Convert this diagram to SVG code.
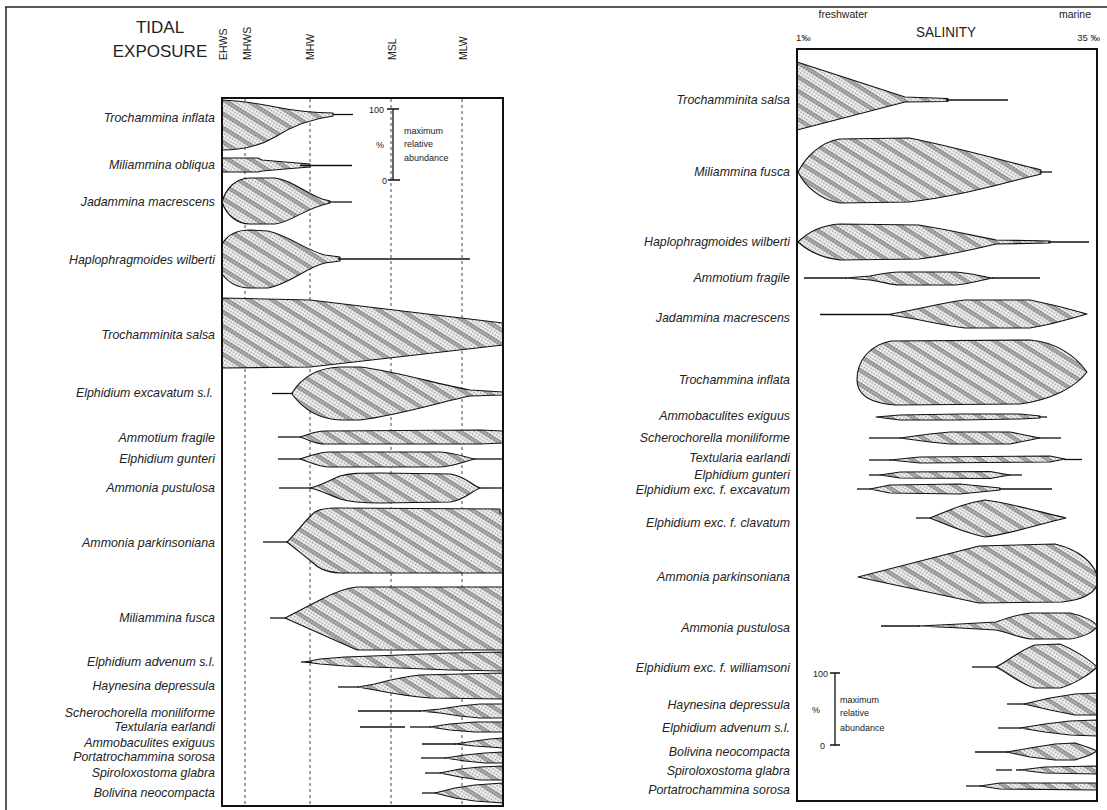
<svg xmlns="http://www.w3.org/2000/svg" width="1107" height="810" viewBox="0 0 1107 810">
<style>
.lbl{font-family:"Liberation Sans",Arial,sans-serif;font-style:italic;font-size:12.4px;fill:#222;text-anchor:end}
.hdr{font-family:"Liberation Sans",Arial,sans-serif;fill:#222}
.sh{fill:url(#stip);stroke:#111;stroke-width:1.1;stroke-linejoin:round}
.tl{stroke:#111;stroke-width:1.3;fill:none}
.tide{stroke:#444;stroke-width:1;stroke-dasharray:3 3;fill:none}
.box{fill:none;stroke:#111;stroke-width:2}
.sc{font-family:"Liberation Sans",Arial,sans-serif;font-size:9px;fill:#222}
.frame{stroke:#222;stroke-width:1.5;fill:none}
</style>
<defs>
<pattern id="dots" width="3" height="3" patternUnits="userSpaceOnUse"><rect width="3" height="3" fill="#f4f4f4"/><rect width="1.5" height="1.5" fill="#959595"/></pattern>
<pattern id="stip" width="12" height="12" patternUnits="userSpaceOnUse" patternTransform="rotate(32)"><rect width="12" height="12" fill="url(#dots)"/><rect width="12" height="4.5" fill="#444" fill-opacity="0.4"/></pattern>
</defs>
<rect width="1107" height="810" fill="#fff"/>
<g id="frame"><path class="frame" d="M5,7 L1107,7 M6,7 L6,810"/></g>

<!-- LEFT PANEL -->
<g id="tidal-header">
<text class="hdr" x="160" y="33" font-size="17" text-anchor="middle">TIDAL</text>
<text class="hdr" x="160" y="57" font-size="17" text-anchor="middle">EXPOSURE</text>
<text class="hdr" font-size="10.5" transform="translate(227,60) rotate(-90)">EHWS</text>
<text class="hdr" font-size="10.5" transform="translate(251,60) rotate(-90)">MHWS</text>
<text class="hdr" font-size="10.5" transform="translate(314,60) rotate(-90)">MHW</text>
<text class="hdr" font-size="10.5" transform="translate(396,60) rotate(-90)">MSL</text>
<text class="hdr" font-size="10.5" transform="translate(467,60) rotate(-90)">MLW</text>
</g>
<g id="tide-lines">
<line class="tide" x1="245" y1="99" x2="245" y2="806"/>
<line class="tide" x1="310" y1="99" x2="310" y2="806"/>
<line class="tide" x1="391" y1="99" x2="391" y2="806"/>
<line class="tide" x1="462" y1="99" x2="462" y2="806"/>
</g>
<g id="left-shapes">
<g id="L-trochammina-inflata"><path class="sh" d="M222,100 C240,101 255,103 270,106 C295,111 315,113 333,113 L333,116 C310,119 292,126 275,137 C258,147 240,150 222,150 Z"/><line class="tl" x1="333" y1="114.5" x2="353" y2="114.5"/></g>
<g id="L-miliammina-obliqua"><path class="sh" d="M222,158 L258,158 L262,160 L285,162 L310,164 L310,167 L285,169 L262,171 L258,172 L222,172 Z"/><line class="tl" x1="300" y1="165.5" x2="352" y2="165.5"/></g>
<g id="L-jadammina"><path class="sh" d="M222,202 C226,188 236,178 250,178 L275,178 C292,180 305,193 322,199 L330,201 L330,203 C305,208 292,222 275,224 L250,224 C236,224 226,214 222,202 Z"/><line class="tl" x1="328" y1="202" x2="352" y2="202"/></g>
<g id="L-haplophragmoides"><path class="sh" d="M222,244 C228,234 238,230 250,230 L268,231 C290,236 305,250 325,255 L340,257 L340,261 L325,263 C305,268 290,284 268,288 L250,288 C238,288 228,282 222,274 Z"/><line class="tl" x1="338" y1="259" x2="470" y2="259"/></g>
<g id="L-trochamminita-salsa"><path class="sh" d="M222,298 L310,300 L503,323 L503,345 L310,367 L222,368 Z"/></g>
<g id="L-elphidium-excavatum"><path class="sh" d="M292,393 C300,380 315,368 340,367 L360,367 C400,372 440,385 470,390 L503,392 L503,395 L470,396 C440,402 400,415 360,420 L340,420 C315,419 300,405 292,394 Z"/><line class="tl" x1="272" y1="393.5" x2="293" y2="393.5"/></g>
<g id="L-ammotium-fragile"><path class="sh" d="M300,437 C310,434 315,431 325,431 L480,430 L503,431 L503,443 L480,444 L325,444 C315,444 310,440 300,437 Z"/><line class="tl" x1="278" y1="437" x2="301" y2="437"/></g>
<g id="L-elphidium-gunteri"><path class="sh" d="M300,459 C310,456 318,452 330,452 L440,452 C455,453 465,457 475,459 C465,461 455,466 440,467 L330,467 C318,467 310,462 300,459 Z"/><line class="tl" x1="278" y1="459" x2="301" y2="459"/><line class="tl" x1="474" y1="459" x2="503" y2="459"/></g>
<g id="L-ammonia-pustulosa"><path class="sh" d="M310,488 C320,486 330,480 340,476 C350,473 360,473 380,473 L450,474 C465,476 470,484 480,488 C470,492 465,500 450,502 L380,503 C360,503 350,502 340,499 C330,495 320,490 310,488 Z"/><line class="tl" x1="279" y1="488" x2="311" y2="488"/><line class="tl" x1="479" y1="488" x2="503" y2="488"/></g>
<g id="L-ammonia-parkinsoniana"><path class="sh" d="M287,542 C295,535 305,520 315,512 C320,509 325,508 335,508 L500,509 L500,513 L503,513 L503,573 L340,573 C325,572 318,568 312,562 C303,555 295,548 287,542 Z"/><line class="tl" x1="263" y1="542" x2="288" y2="542"/></g>
<g id="L-miliammina-fusca"><path class="sh" d="M285,618 L320,600 C335,592 345,588 357,587 L503,587 L503,650 L357,650 Z"/><line class="tl" x1="270" y1="618" x2="286" y2="618"/></g>
<g id="L-elphidium-advenum"><path class="sh" d="M305,662 L320,659 L345,657 L400,655 L450,653 L503,652 L503,671 L450,670 L400,668 L345,666 L320,664 Z"/><line class="tl" x1="301" y1="662" x2="312" y2="662" stroke-width="2.5"/></g>
<g id="L-haynesina"><path class="sh" d="M358,687 L375,684 C390,680 400,677 420,675 L503,673 L503,699 L430,698 C405,696 390,693 375,690 Z"/><line class="tl" x1="338" y1="687" x2="359" y2="687"/></g>
<g id="L-scherochorella"><path class="sh" d="M420,711 L440,709 L460,706 L480,704 L503,704 L503,718 L480,718 L460,716 L440,713 Z"/><line class="tl" x1="358" y1="711" x2="421" y2="711"/></g>
<g id="L-textularia"><path class="sh" d="M430,727 L450,724 L475,722 L503,722 L503,732 L475,732 L450,730 Z"/><line class="tl" x1="360" y1="727" x2="405" y2="727"/><line class="tl" x1="410" y1="727" x2="431" y2="727"/></g>
<g id="L-ammobaculites"><path class="sh" d="M455,744 L475,741 L490,739 L503,738 L503,748 L490,747 L475,746 Z"/><line class="tl" x1="422" y1="744" x2="456" y2="744"/></g>
<g id="L-portatrochammina"><path class="sh" d="M445,758 L465,755 L485,753 L503,752 L503,763 L485,763 L465,761 Z"/><line class="tl" x1="421" y1="758" x2="446" y2="758"/></g>
<g id="L-spiroloxostoma"><path class="sh" d="M440,773 L460,769 L480,767 L503,766 L503,780 L480,780 L460,777 Z"/><line class="tl" x1="425" y1="773" x2="441" y2="773"/></g>
<g id="L-bolivina"><path class="sh" d="M435,793 L455,788 L475,785 L503,783 L503,803 L475,801 L455,798 Z"/><line class="tl" x1="422" y1="793" x2="436" y2="793"/></g>
</g>
<g id="left-scale">
<path class="tl" d="M393,109 L393,180 M387,109 L399,109 M388,180 L400,180"/>
<text class="sc" x="384" y="113" text-anchor="end">100</text>
<text class="sc" x="380" y="148" text-anchor="middle">%</text>
<text class="sc" x="387" y="184" text-anchor="end">0</text>
<text class="sc" x="404" y="134">maximum</text>
<text class="sc" x="404" y="147">relative</text>
<text class="sc" x="404" y="161">abundance</text>
</g>
<rect id="left-box" class="box" x="222" y="98" width="281" height="708"/>
<g id="left-labels">
<text class="lbl" x="215" y="122">Trochammina inflata</text>
<text class="lbl" x="215" y="169">Miliammina obliqua</text>
<text class="lbl" x="215" y="206">Jadammina macrescens</text>
<text class="lbl" x="215" y="264">Haplophragmoides wilberti</text>
<text class="lbl" x="215" y="339">Trochamminita salsa</text>
<text class="lbl" x="213" y="397">Elphidium excavatum s.l.</text>
<text class="lbl" x="215" y="442">Ammotium fragile</text>
<text class="lbl" x="215" y="463">Elphidium gunteri</text>
<text class="lbl" x="215" y="492">Ammonia pustulosa</text>
<text class="lbl" x="215" y="547">Ammonia parkinsoniana</text>
<text class="lbl" x="215" y="622">Miliammina fusca</text>
<text class="lbl" x="215" y="666">Elphidium advenum s.l.</text>
<text class="lbl" x="215" y="690">Haynesina depressula</text>
<text class="lbl" x="215" y="717">Scherochorella moniliforme</text>
<text class="lbl" x="215" y="731">Textularia earlandi</text>
<text class="lbl" x="215" y="747">Ammobaculites exiguus</text>
<text class="lbl" x="215" y="761">Portatrochammina sorosa</text>
<text class="lbl" x="215" y="777">Spiroloxostoma glabra</text>
<text class="lbl" x="215" y="797">Bolivina neocompacta</text>
</g>

<!-- RIGHT PANEL -->
<g id="salinity-header">
<text class="hdr" x="843" y="18" font-size="10.5" text-anchor="middle">freshwater</text>
<text class="hdr" x="946" y="37" font-size="15" text-anchor="middle" textLength="60" lengthAdjust="spacingAndGlyphs">SALINITY</text>
<text class="hdr" x="1075" y="18" font-size="10.5" text-anchor="middle">marine</text>
<text class="hdr" x="796" y="41" font-size="9.5">1‰</text>
<text class="hdr" x="1100" y="41" font-size="9.5" text-anchor="end">35 ‰</text>
</g>
<g id="right-shapes">
<g id="R-trochamminita-salsa"><path class="sh" d="M797,62 L905,97 L948,98.5 L948,101.5 L905,102 L797,130 Z"/><line class="tl" x1="946" y1="100" x2="1008" y2="100"/></g>
<g id="R-miliammina-fusca"><path class="sh" d="M798,172 C805,158 820,142 840,139 L909,138 C960,148 1000,160 1041,170 L1041,174 C1000,184 960,196 909,202 L840,203 C820,200 805,186 798,172 Z"/><line class="tl" x1="1040" y1="172" x2="1052" y2="172"/></g>
<g id="R-haplophragmoides"><path class="sh" d="M798,242 C808,232 822,225 840,224 L919,225 C950,230 975,236 996,240 L1050,241 L1050,243 L996,244 C975,249 950,255 919,259 L840,260 C822,258 808,251 798,242 Z"/><line class="tl" x1="1048" y1="242" x2="1089" y2="242"/></g>
<g id="R-ammotium-fragile"><path class="sh" d="M846,278 L870,276 C885,273 890,272 900,272 L955,272 C970,273 980,276 993,278 C980,280 970,284 955,285 L900,285 C890,285 885,282 870,280 Z"/><line class="tl" x1="804" y1="278" x2="847" y2="278"/><line class="tl" x1="992" y1="278" x2="1040" y2="278"/></g>
<g id="R-jadammina"><path class="sh" d="M891,314 C920,309 940,303 965,300 L1030,300 C1050,304 1070,309 1087,314 C1070,319 1050,325 1030,328 L965,328 C940,325 920,319 891,315 Z"/><line class="tl" x1="820" y1="314.5" x2="892" y2="314.5"/></g>
<g id="R-trochammina-inflata"><path class="sh" d="M857,380 C857,360 870,345 891,341 L1030,340 C1055,342 1075,355 1087,372 C1075,388 1050,400 1020,404 L895,405 C870,403 857,395 857,380 Z"/></g>
<g id="R-ammobaculites"><path class="sh" d="M876,417 L900,415 L960,414 L1020,414 L1040,416 L1040,418 L1020,419 L960,420 L900,420 Z"/><line class="tl" x1="1038" y1="417" x2="1047" y2="417"/></g>
<g id="R-scherochorella"><path class="sh" d="M900,438 L930,434 L950,432 L1010,432 L1030,436 L1040,438 L1030,440 L1010,444 L950,444 L930,442 Z"/><line class="tl" x1="869" y1="438" x2="901" y2="438"/><line class="tl" x1="1039" y1="438" x2="1061" y2="438"/></g>
<g id="R-textularia"><path class="sh" d="M890,460 L920,457 L1050,456 L1065,459 L1050,462 L920,463 Z"/><line class="tl" x1="869" y1="460" x2="891" y2="460"/><line class="tl" x1="1064" y1="459.5" x2="1082" y2="459.5"/></g>
<g id="R-elphidium-gunteri"><path class="sh" d="M880,475 L900,472 L990,471.5 L1010,475 L990,478.5 L900,478 Z"/><line class="tl" x1="869" y1="475" x2="881" y2="475"/><line class="tl" x1="1009" y1="475" x2="1022" y2="475"/></g>
<g id="R-elphidium-excavatum"><path class="sh" d="M870,489 L890,485 L960,484 L1000,488 L1000,490 L960,494 L890,493 Z"/><line class="tl" x1="857" y1="489" x2="871" y2="489"/><line class="tl" x1="999" y1="489" x2="1052" y2="489"/></g>
<g id="R-elphidium-clavatum"><path class="sh" d="M930,518 C950,510 965,503 985,500 C1010,503 1040,512 1066,518 C1040,524 1010,534 985,537 C965,533 950,526 930,518 Z"/><line class="tl" x1="916" y1="518" x2="931" y2="518"/></g>
<g id="R-ammonia-parkinsoniana"><path class="sh" d="M858,577 L979,546 L1055,544 C1080,550 1093,563 1097,575 L1097,585 C1093,595 1080,600 1062,602 L979,603 Z"/></g>
<g id="R-ammonia-pustulosa"><path class="sh" d="M919,626 L960,624 L996,622 C1010,617 1020,614 1031,613 L1070,613 C1085,616 1095,622 1097,626 C1095,631 1085,637 1070,639 L1031,639 C1020,638 1010,633 996,630 L960,628 Z"/><line class="tl" x1="881" y1="626" x2="920" y2="626"/></g>
<g id="R-elphidium-williamsoni"><path class="sh" d="M996,667 C1010,660 1020,650 1035,645 L1060,644 C1075,650 1090,660 1097,667 C1090,674 1075,684 1060,688 L1035,688 C1020,684 1010,674 996,667 Z"/><line class="tl" x1="972" y1="667" x2="997" y2="667"/></g>
<g id="R-haynesina"><path class="sh" d="M1024,704 L1050,698 L1075,694 L1097,693 L1097,715 L1075,715 L1050,710 Z"/><line class="tl" x1="1007" y1="704" x2="1025" y2="704" stroke-width="2.2"/></g>
<g id="R-elphidium-advenum"><path class="sh" d="M1020,728 L1045,724 L1070,721 L1097,720 L1097,736 L1070,735 L1045,732 Z"/><line class="tl" x1="998" y1="728" x2="1021" y2="728"/></g>
<g id="R-bolivina"><path class="sh" d="M1007,752 L1030,748 L1055,744 L1075,743 L1090,748 L1097,751 L1090,755 L1075,760 L1055,760 L1030,757 Z"/><line class="tl" x1="975" y1="752" x2="1008" y2="752"/></g>
<g id="R-spiroloxostoma"><path class="sh" d="M1020,770 L1045,767 L1097,766 L1097,774 L1045,773 Z"/><line class="tl" x1="996" y1="770" x2="1012" y2="770"/><line class="tl" x1="1016" y1="770" x2="1021" y2="770"/></g>
<g id="R-portatrochammina"><path class="sh" d="M980,786 L1000,783 L1097,783 L1097,790 L1000,789 Z"/><line class="tl" x1="966" y1="786" x2="981" y2="786"/></g>
</g>
<g id="right-scale">
<path class="tl" d="M835,673 L835,745 M830,673 L840,673 M830,745 L840,745"/>
<text class="sc" x="828" y="677" text-anchor="end">100</text>
<text class="sc" x="816" y="713" text-anchor="middle">%</text>
<text class="sc" x="825" y="749" text-anchor="end">0</text>
<text class="sc" x="840" y="703">maximum</text>
<text class="sc" x="840" y="716">relative</text>
<text class="sc" x="840" y="731">abundance</text>
</g>
<rect id="right-box" class="box" x="797" y="49" width="300" height="752"/>
<g id="right-labels">
<text class="lbl" x="790" y="104">Trochamminita salsa</text>
<text class="lbl" x="790" y="176">Miliammina fusca</text>
<text class="lbl" x="790" y="246">Haplophragmoides wilberti</text>
<text class="lbl" x="790" y="282">Ammotium fragile</text>
<text class="lbl" x="790" y="322">Jadammina macrescens</text>
<text class="lbl" x="790" y="384">Trochammina inflata</text>
<text class="lbl" x="790" y="420">Ammobaculites exiguus</text>
<text class="lbl" x="790" y="442">Scherochorella moniliforme</text>
<text class="lbl" x="790" y="462">Textularia earlandi</text>
<text class="lbl" x="790" y="479">Elphidium gunteri</text>
<text class="lbl" x="790" y="494">Elphidium exc. f. excavatum</text>
<text class="lbl" x="790" y="527">Elphidium exc. f. clavatum</text>
<text class="lbl" x="790" y="581">Ammonia parkinsoniana</text>
<text class="lbl" x="790" y="632">Ammonia pustulosa</text>
<text class="lbl" x="790" y="672">Elphidium exc. f. williamsoni</text>
<text class="lbl" x="790" y="709">Haynesina depressula</text>
<text class="lbl" x="790" y="732">Elphidium advenum s.l.</text>
<text class="lbl" x="790" y="756">Bolivina neocompacta</text>
<text class="lbl" x="790" y="775">Spiroloxostoma glabra</text>
<text class="lbl" x="790" y="794">Portatrochammina sorosa</text>
</g>
</svg>
